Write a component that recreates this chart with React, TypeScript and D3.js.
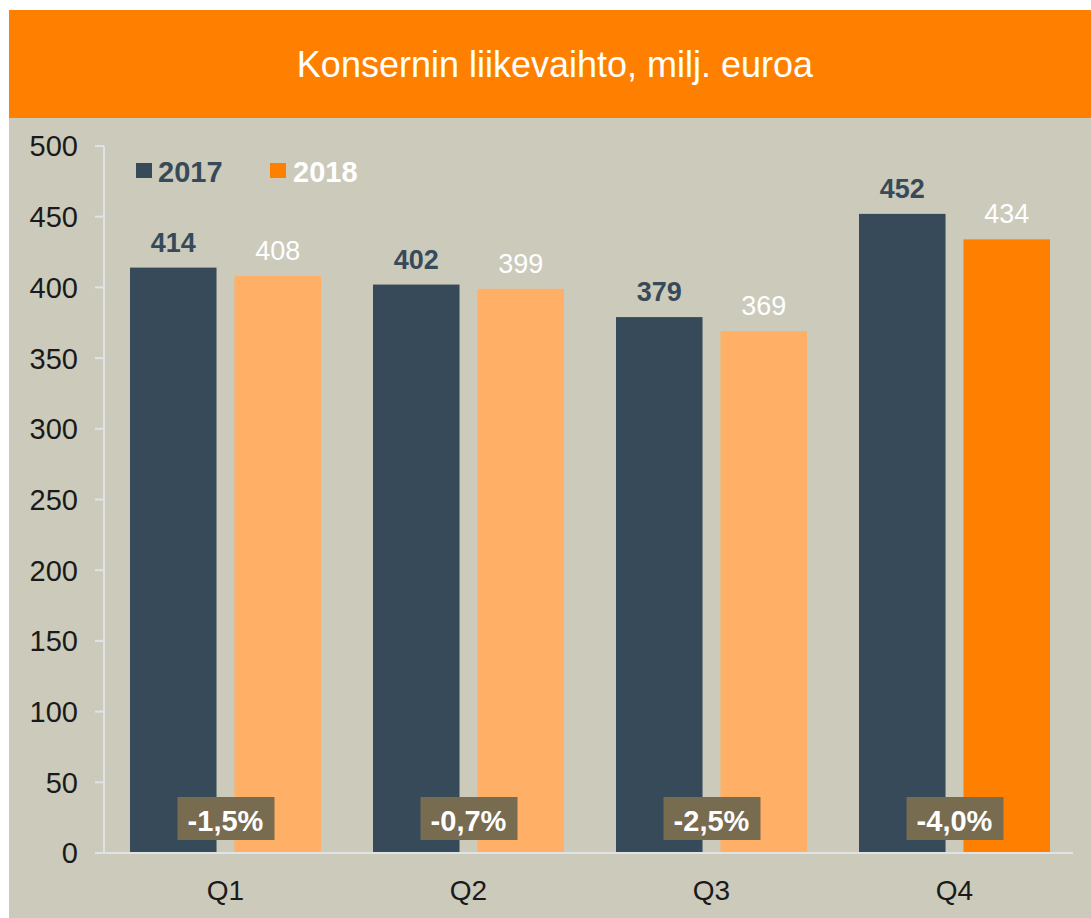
import React from "react";
import * as d3 from "d3";

const quarters = ["Q1", "Q2", "Q3", "Q4"];
const series = ["2017", "2018"];
const values2017 = [414, 402, 379, 452];
const values2018 = [408, 399, 369, 434];
const changes = ["-1,5%", "-0,7%", "-2,5%", "-4,0%"];
const yTicks = [0, 50, 100, 150, 200, 250, 300, 350, 400, 450, 500];
const title = "Konsernin liikevaihto, milj. euroa";

const W = 1091;
const H = 918;
const FONT = "'Liberation Sans', Arial, sans-serif";
const ORANGE = "#FF8000";
const LIGHT_ORANGE = "#FFB066";
const DARK = "#374A5A";
const BEIGE = "#CCCABB";
const BOX = "#776B50";
const AXIS = "#E0E3E6";

export default function App() {
  const x = d3.scaleBand<string>().domain(quarters).range([104, 1076]).padding(0);
  const x1 = d3
    .scaleBand<string>()
    .domain(series)
    .range([0, x.bandwidth()])
    .paddingInner(0.172)
    .paddingOuter(0.249);
  const y = d3.scaleLinear().domain([0, 500]).range([853, 146]);

  const bars = quarters.flatMap((q, i) => [
    { q, s: "2017", v: values2017[i], i },
    { q, s: "2018", v: values2018[i], i },
  ]);

  const fillFor = (s: string, i: number) =>
    s === "2017" ? DARK : i === quarters.length - 1 ? ORANGE : LIGHT_ORANGE;

  return (
    <div style={{ position: "absolute", left: 0, top: 0 }}>
      <svg width={W} height={H} style={{ display: "block" }} fontFamily={FONT}>
        <rect x={0} y={0} width={W} height={H} fill="#ffffff" />
        <rect x={9} y={10} width={W - 9} height={108} fill={ORANGE} />
        <rect x={9} y={118} width={W - 9} height={H - 118} fill={BEIGE} />
        <text x={555} y={77} textAnchor="middle" fill="#ffffff" fontSize={36}>
          {title}
        </text>

        {/* y axis */}
        <line x1={104} x2={104} y1={y(500)} y2={y(0)} stroke={AXIS} strokeWidth={2} />
        {yTicks.map((t) => (
          <g key={t}>
            <line x1={95} x2={104} y1={y(t)} y2={y(t)} stroke={AXIS} strokeWidth={2} />
            <text
              x={78}
              y={y(t)}
              dy="0.36em"
              textAnchor="end"
              fontSize={29}
              fill="#1a1a1a"
            >
              {t}
            </text>
          </g>
        ))}

        {/* bars */}
        {bars.map((b) => {
          const bx = (x(b.q) as number) + (x1(b.s) as number);
          return (
            <g key={b.q + b.s}>
              <rect
                x={bx}
                y={y(b.v)}
                width={x1.bandwidth()}
                height={y(0) - y(b.v)}
                fill={fillFor(b.s, b.i)}
              />
              <text
                x={bx + x1.bandwidth() / 2}
                y={y(b.v) - 16}
                textAnchor="middle"
                fontSize={27}
                fontWeight={b.s === "2017" ? "bold" : "normal"}
                fill={b.s === "2017" ? DARK : "#ffffff"}
              >
                {b.v}
              </text>
            </g>
          );
        })}

        {/* baseline */}
        <line x1={95} x2={1073} y1={y(0)} y2={y(0)} stroke={AXIS} strokeWidth={2} />

        {/* change boxes */}
        {quarters.map((q, i) => {
          const cx = (x(q) as number) + x.bandwidth() / 2;
          return (
            <g key={q}>
              <rect x={cx - 48} y={797} width={97} height={43} fill={BOX} />
              <text
                x={cx}
                y={831}
                textAnchor="middle"
                fontSize={29}
                fontWeight="bold"
                fill="#ffffff"
              >
                {changes[i]}
              </text>
              <text x={cx} y={900} textAnchor="middle" fontSize={28} fill="#1a1a1a">
                {q}
              </text>
            </g>
          );
        })}

        {/* legend */}
        <rect x={136} y={163} width={16} height={15} fill={DARK} />
        <text x={158} y={182} fontSize={29} fontWeight="bold" fill={DARK}>
          {series[0]}
        </text>
        <rect x={270} y={163} width={16} height={15} fill={ORANGE} />
        <text x={293} y={182} fontSize={29} fontWeight="bold" fill="#ffffff">
          {series[1]}
        </text>
      </svg>
    </div>
  );
}
